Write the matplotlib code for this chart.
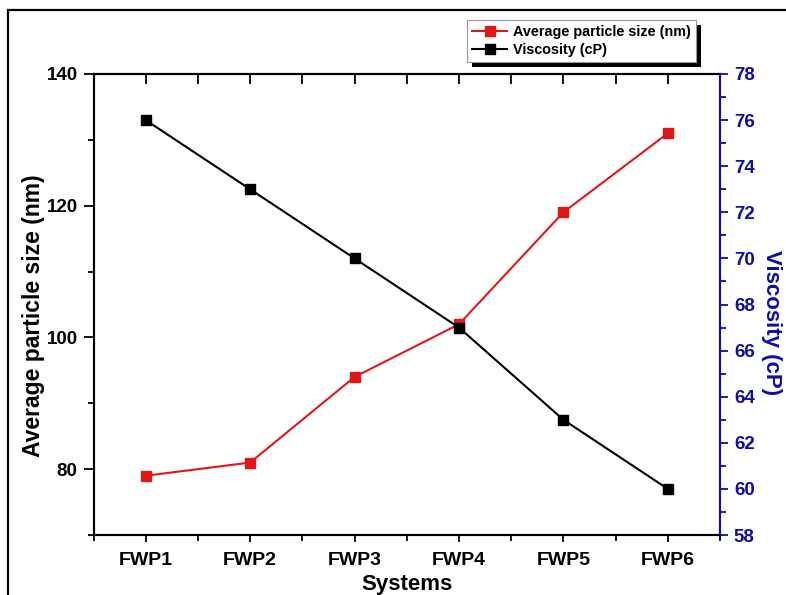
import matplotlib.pyplot as plt
from matplotlib.patches import Rectangle
from matplotlib.ticker import MultipleLocator

plt.rcParams['font.family'] = ['Liberation Sans', 'DejaVu Sans']
plt.rcParams['font.weight'] = 'bold'

systems = ['FWP1', 'FWP2', 'FWP3', 'FWP4', 'FWP5', 'FWP6']
particle_size = [79, 81, 94, 102, 119, 131]
viscosity = [76, 73, 70, 67, 63, 60]

x = list(range(1, len(systems) + 1))
blue = '#0d0da8'
W, H = 786, 595

fig = plt.figure(figsize=(W / 100, H / 100), dpi=100)
# axes box in pixels: left 93.5, right 720, top 74, bottom 535
ax = fig.add_axes([93.5 / W, 1 - 535 / H, (720 - 93.5) / W, (535 - 74) / H])
ax2 = ax.twinx()

l1, = ax.plot(x, particle_size, color='#e01818', lw=1.5, marker='s', ms=6.5,
              label='Average particle size (nm)')
l2, = ax2.plot(x, viscosity, color='black', lw=1.5, marker='s', ms=6.5,
               label='Viscosity (cP)')

ax.set_xlim(0.5, 6.5)
ax.set_ylim(70, 140)
ax2.set_ylim(58, 78)

ax.set_xticks(x)
ax.set_xticklabels(systems)
ax.xaxis.set_minor_locator(MultipleLocator(0.5))
ax.yaxis.set_major_locator(MultipleLocator(20))
ax.yaxis.set_minor_locator(MultipleLocator(10))
ax2.yaxis.set_major_locator(MultipleLocator(2))
ax2.yaxis.set_minor_locator(MultipleLocator(1))

for a in (ax, ax2):
    for s in a.spines.values():
        s.set_linewidth(1.5)
ax2.spines['right'].set_color(blue)

ax.tick_params(axis='x', which='both', direction='out', top=False, labelsize=14, width=1.3, pad=7)
ax.tick_params(axis='x', which='major', length=5)
ax.tick_params(axis='x', which='minor', length=4)
ax.tick_params(axis='y', which='both', direction='out', right=False, labelsize=13.5, width=1.3, pad=4.5)
ax.tick_params(axis='y', which='major', length=7)
ax.tick_params(axis='y', which='minor', length=4.5)
ax2.tick_params(axis='y', which='both', direction='out', colors=blue, labelsize=13.5, width=1.3, pad=4)
ax2.tick_params(axis='y', which='major', length=6)
ax2.tick_params(axis='y', which='minor', length=4)

# top ticks point inward (drawn through the twin's shared x axis)
ax2.xaxis.set_visible(True)
ax2.tick_params(axis='x', which='both', bottom=False, labelbottom=False, top=True, labeltop=False,
                direction='in', length=7, width=1.3)

ax.set_xlabel('Systems', fontsize=16, fontweight='bold')
ax.xaxis.set_label_coords(0.5, -0.0845)
ax.set_ylabel('Average particle size (nm)', fontsize=16.5, fontweight='bold')
ax.yaxis.set_label_coords(-0.077, 0.475)
ax2.set_ylabel('Viscosity (cP)', fontsize=16, fontweight='bold', color=blue, rotation=-90)
ax2.yaxis.set_label_coords(1.099, 0.461)

leg = fig.legend(handles=[l1, l2], loc='upper left', bbox_to_anchor=(467 / W, 1 - 20 / H),
                 fontsize=10.4, frameon=True, fancybox=False, framealpha=1,
                 handlelength=2.45, handletextpad=0.36, labelspacing=0.25, borderpad=0.35,
                 borderaxespad=0)
leg.get_frame().set_edgecolor('#999999')
leg.get_frame().set_facecolor('white')
leg.get_frame().set_linewidth(0.8)

# heavy drop shadow under the legend box
fig.canvas.draw()
bb = leg.get_window_extent().transformed(fig.transFigure.inverted())
dx, dy = 5 / W, 5 / H
fig.patches.append(Rectangle((bb.x0 + dx, bb.y0 - dy), bb.width, bb.height, transform=fig.transFigure,
                             facecolor='black', edgecolor='none', zorder=leg.get_zorder() - 0.1))

fig.patches.append(Rectangle((8 / W, -0.1), 1.2, 1 - 10 / H + 0.1, transform=fig.transFigure,
                             fill=False, edgecolor='black', lw=1.6, zorder=0))

fig.savefig('out.png', dpi=100)
